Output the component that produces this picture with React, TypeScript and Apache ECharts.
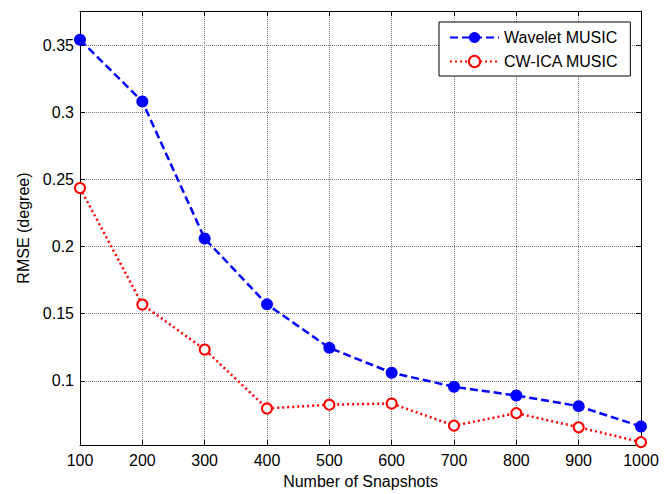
import React, { useEffect, useRef } from "react";
import * as echarts from "echarts";

const snapshots = [100, 200, 300, 400, 500, 600, 700, 800, 900, 1000];
const waveletMusic = [0.354, 0.308, 0.206, 0.157, 0.1246, 0.1061, 0.0956, 0.0891, 0.0812, 0.066];
const cwIcaMusic = [0.2436, 0.1569, 0.1234, 0.0795, 0.0823, 0.0832, 0.0667, 0.076, 0.0655, 0.0544];
const yTicks = [0.1, 0.15, 0.2, 0.25, 0.3, 0.35];
const seriesNames = ["Wavelet MUSIC", "CW-ICA MUSIC"];

const FONT = "'Liberation Sans', Arial, sans-serif";

export default function App() {
  const ref = useRef<HTMLDivElement>(null);
  useEffect(() => {
    if (!ref.current) return;
    const chart = echarts.init(ref.current, undefined, { renderer: "svg" });
    const gridLine = { show: true, lineStyle: { color: "#7a7a7a", width: 1, type: [1, 1] as any } };
    const axisLine = { show: true, onZero: false, lineStyle: { color: "#000", width: 1 } };
    const tick = { show: true, inside: true, length: 5, lineStyle: { color: "#000", width: 1 } };
    const xBase = { type: "value" as const, min: 100, max: 1000, interval: 100 };
    const yBase = { type: "value" as const, min: 0.0522, max: 0.3754 };
    chart.setOption({
      animation: false,
      backgroundColor: "#fff",
      textStyle: { fontFamily: FONT },
      grid: { left: 80, right: 31, top: 11, bottom: 46, containLabel: false },
      legend: {
        orient: "vertical",
        left: 439,
        top: 22,
        itemWidth: 49,
        itemHeight: 14,
        itemGap: 7,
        padding: [7, 12, 6, 10],
        backgroundColor: "#fff",
        borderColor: "#000",
        borderWidth: 1,
        borderRadius: 0,
        textStyle: { fontFamily: FONT, fontSize: 16, color: "#000", lineHeight: 17 },
        data: seriesNames,
      },
      xAxis: [
        {
          ...xBase,
          position: "bottom",
          axisLine,
          axisTick: tick,
          splitLine: gridLine,
          axisLabel: { color: "#000", fontSize: 16, fontFamily: FONT, margin: 7, formatter: (v: number) => String(v) },
          name: "Number of Snapshots",
          nameLocation: "middle",
          nameGap: 27,
          nameTextStyle: { color: "#000", fontSize: 16, fontFamily: FONT },
        },
        {
          ...xBase,
          position: "top",
          axisLine,
          axisTick: tick,
          splitLine: { show: false },
          axisLabel: { show: false },
        },
      ],
      yAxis: [
        {
          ...yBase,
          position: "left",
          axisLine,
          axisTick: { ...tick, customValues: yTicks },
          splitLine: gridLine,
          axisLabel: { color: "#000", fontSize: 16, fontFamily: FONT, margin: 6, customValues: yTicks },
          name: "RMSE (degree)",
          nameLocation: "middle",
          nameGap: 49,
          nameTextStyle: { color: "#000", fontSize: 16, fontFamily: FONT },
        },
        {
          ...yBase,
          position: "right",
          axisLine,
          axisTick: { ...tick, customValues: yTicks },
          splitLine: { show: false },
          axisLabel: { show: false },
        },
      ],
      series: [
        {
          name: seriesNames[0],
          type: "line",
          xAxisIndex: 0,
          yAxisIndex: 0,
          data: snapshots.map((x, i) => [x, waveletMusic[i]]),
          symbol: "circle",
          symbolSize: 12,
          lineStyle: { color: "#0000ff", width: 2.5, type: [8, 4] },
          itemStyle: { color: "#0000ff" },
          z: 3,
        },
        {
          name: seriesNames[1],
          type: "line",
          xAxisIndex: 0,
          yAxisIndex: 0,
          data: snapshots.map((x, i) => [x, cwIcaMusic[i]]),
          symbol: "emptyCircle",
          symbolSize: 10,
          lineStyle: { color: "#ff0000", width: 2.5, type: [2, 3] },
          itemStyle: { color: "#ff0000", borderWidth: 2.2 },
          z: 3,
        },
      ],
    });
    return () => chart.dispose();
  }, []);
  return <div ref={ref} style={{ width: 672, height: 494, position: "absolute", left: 0, top: 0 }} />;
}
